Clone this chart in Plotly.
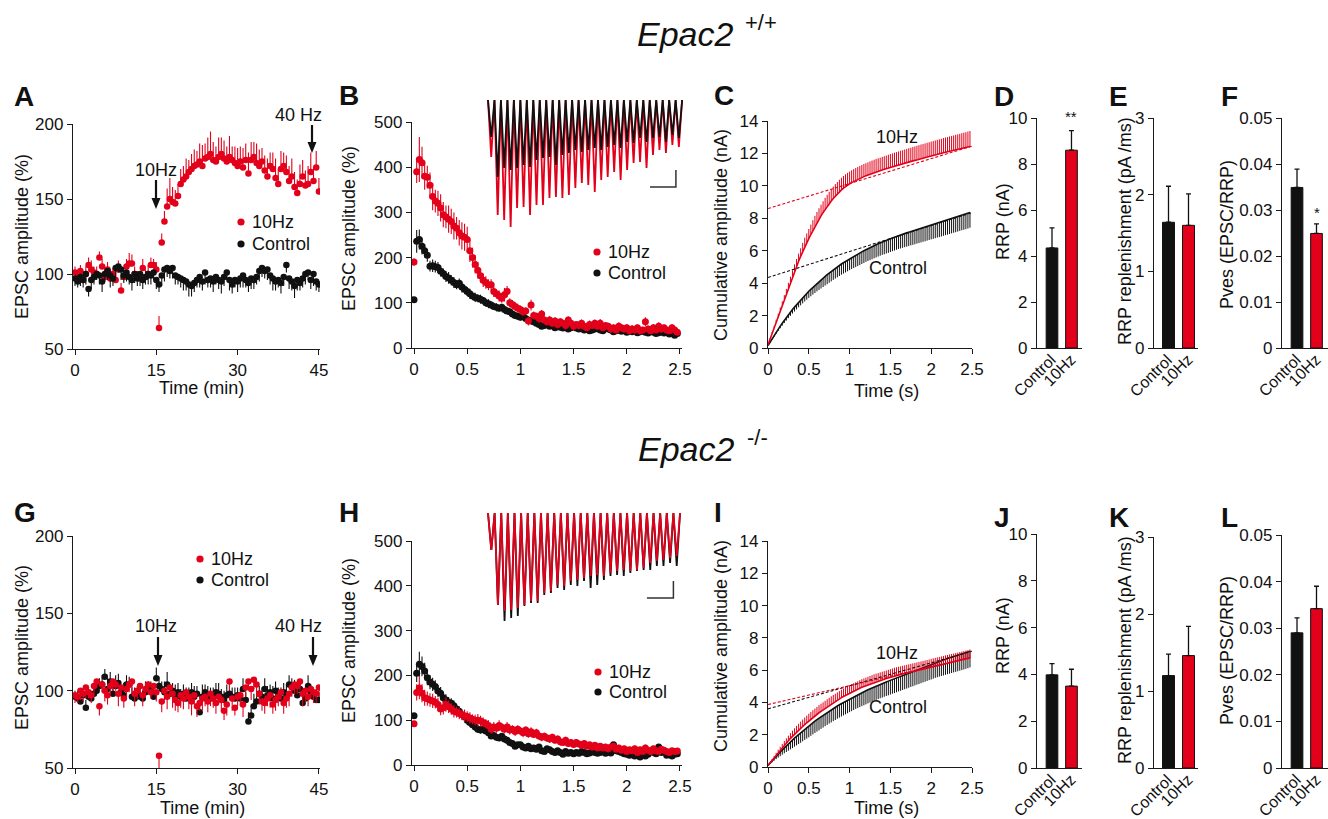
import plotly.graph_objects as go

W, H = 1328, 819
RED = '#e2001a'
BLK = '#111111'
AXC = '#1a1a1a'
FONT = 'Liberation Sans, Arial, Helvetica, sans-serif'
TICK_SIZE = 17
TITLE_SIZE = 18
BAR_LABEL_SIZE = 16

# ---------------- data ----------------
time_min = [i * 0.5 for i in range(91)]          # panels A, G sampling grid (min)
time_s = [i * 0.025 for i in range(100)]         # panels B, C, H, I sampling grid (s)

# A : Epac2 +/+ time course (%)
a_10hz = [101, 98, 102, 96, 100, 106, 103, 101, 100, 111,
          105, 98, 103, 97, 100, 96, 103, 89, 98, 105,
          107, 107, 100, 98, 97, 104, 98, 100, 106, 106,
          103, 64, 121, 135, 145, 150, 148, 147, 152, 160,
          163, 165, 168, 170, 172, 173, 175, 172, 177, 178,
          180, 176, 175, 178, 180, 177, 175, 178, 176, 174,
          172, 175, 171, 176, 167, 176, 178, 174, 172, 175,
          169, 165, 172, 170, 164, 160, 170, 172, 168, 162,
          165, 158, 154, 160, 165, 159, 160, 168, 162, 171,
          155]
a_10hz_err = [4, 5, 4, 6, 5, 5, 6, 4, 5, 4,
              5, 6, 5, 6, 4, 5, 6, 5, 4, 5,
              7, 6, 5, 4, 5, 6, 5, 6, 5, 4,
              5, 8, 6, 7, 12, 14, 10, 9, 8, 10,
              9, 12, 8, 10, 11, 9, 12, 14, 10, 13,
              15, 12, 10, 13, 11, 12, 10, 14, 9, 11,
              12, 10, 13, 11, 14, 12, 10, 13, 11, 9,
              10, 12, 9, 11, 13, 10, 12, 9, 11, 10,
              12, 10, 9, 13, 11, 10, 12, 13, 9, 11,
              9]
a_ctrl = [97, 95, 98, 96, 100, 90, 96, 98, 100, 99,
          95, 100, 102, 99, 97, 104, 105, 103, 99, 101,
          98, 96, 100, 97, 100, 96, 98, 100, 99, 101,
          96, 93, 99, 103, 104, 102, 104, 99, 98, 97,
          96, 95, 93, 92, 94, 96, 98, 95, 101, 96,
          97, 95, 98, 96, 95, 98, 101, 96, 93, 96,
          95, 97, 99, 96, 94, 97, 96, 98, 102, 104,
          102, 103, 99, 97, 95, 96, 94, 98, 106, 97,
          95, 92, 96, 94, 97, 100, 101, 96, 100, 95,
          93]
a_ctrl_err = [5, 4, 6, 5, 7, 5, 6, 5, 4, 6,
              7, 5, 6, 8, 5, 6, 4, 7, 5, 6,
              5, 7, 6, 5, 8, 6, 5, 7, 6, 5,
              6, 5, 7, 8, 6, 5, 7, 6, 5, 6,
              7, 6, 8, 7, 6, 5, 7, 6, 8, 5,
              6, 7, 5, 6, 8, 6, 5, 7, 6, 5,
              7, 6, 8, 5, 6, 7, 6, 5, 7, 6,
              5, 7, 6, 8, 6, 5, 7, 6, 5, 7,
              6, 8, 7, 5, 6, 7, 5, 6, 8, 6,
              5]

# B : Epac2 +/+ 40 Hz train (%)
b_10hz = [190, 390, 417, 410, 380, 378, 360, 335, 325, 320,
          310, 295, 290, 285, 280, 270, 265, 255, 248, 245,
          240, 215, 200, 185, 172, 160, 150, 145, 140, 140,
          125, 120, 115, 110, 118, 125, 100, 96, 92, 88,
          85, 80, 82, 60, 95, 72, 70, 65, 75, 62,
          58, 62, 55, 60, 52, 58, 55, 50, 62, 55,
          48, 52, 50, 55, 48, 45, 52, 50, 55, 48,
          55, 45, 50, 48, 42, 45, 40, 48, 45, 42,
          45, 38, 42, 40, 45, 38, 40, 58, 42, 38,
          45, 40, 48, 42, 45, 40, 38, 45, 40, 35]
b_10hz_err = [8, 25, 50, 35, 30, 25, 28, 30, 25, 28,
              30, 28, 25, 30, 28, 30, 25, 28, 30, 30,
              28, 25, 22, 20, 18, 15, 15, 14, 12, 12,
              12, 10, 12, 10, 15, 12, 10, 10, 9, 10,
              9, 10, 8, 10, 12, 9, 8, 10, 9, 8,
              8, 9, 7, 8, 9, 8, 7, 9, 8, 7,
              8, 7, 9, 8, 7, 8, 9, 7, 8, 7,
              9, 8, 7, 8, 9, 7, 8, 9, 7, 8,
              8, 7, 9, 8, 7, 8, 7, 10, 8, 7,
              8, 7, 9, 8, 7, 8, 7, 8, 7, 6]
b_ctrl = [107, 236, 240, 225, 215, 205, 181, 182, 180, 178,
          170, 165, 158, 155, 150, 145, 140, 143, 135, 130,
          125, 120, 115, 112, 110, 108, 105, 100, 98, 95,
          92, 90, 88, 90, 85, 82, 80, 75, 72, 70,
          68, 72, 65, 62, 60, 58, 55, 52, 48, 50,
          52, 48, 50, 45, 48, 46, 44, 47, 42, 45,
          48, 44, 42, 45, 40, 42, 38, 40, 42, 44,
          40, 38, 45, 42, 40, 36, 38, 40, 37, 39,
          35, 38, 36, 40, 34, 36, 38, 35, 33, 37,
          35, 32, 34, 36, 33, 35, 31, 34, 28, 32]
b_ctrl_err = [5, 25, 22, 18, 15, 14, 12, 14, 13, 12,
              12, 11, 12, 13, 11, 12, 10, 11, 12, 10,
              10, 11, 9, 10, 9, 10, 8, 9, 10, 8,
              8, 9, 7, 8, 9, 7, 8, 7, 8, 7,
              7, 6, 7, 8, 6, 7, 6, 7, 6, 7,
              6, 5, 6, 7, 5, 6, 5, 6, 5, 6,
              5, 6, 5, 6, 5, 5, 6, 5, 6, 5,
              5, 6, 5, 5, 6, 5, 5, 6, 5, 5,
              5, 5, 6, 5, 5, 6, 5, 5, 6, 5,
              5, 5, 6, 5, 5, 5, 6, 5, 5, 5]

# B inset : EPSC peak depths of the 40 Hz train (a.u.)
b_inset_10hz = [57, 115, 120, 127, 108, 107, 115, 105, 105, 98,
                97, 98, 95, 88, 83, 85, 92, 80, 77, 72,
                80, 70, 63, 62, 68, 55, 50, 53, 45, 47]
b_inset_ctrl = [37, 77, 68, 70, 68, 65, 67, 60, 58, 57,
                65, 55, 53, 50, 52, 50, 48, 50, 47, 45,
                48, 42, 43, 38, 42, 38, 37, 42, 35, 38]

# C : cumulative amplitude (nA)
c_10hz = [0.2, 0.55, 0.9, 1.25, 1.6, 1.95, 2.3, 2.65, 3.0, 3.35,
          3.7, 4.05, 4.4, 4.75, 5.05, 5.35, 5.65, 5.95, 6.25, 6.5,
          6.75, 7.0, 7.25, 7.5, 7.72, 7.94, 8.15, 8.35, 8.55, 8.73,
          8.9, 9.07, 9.22, 9.37, 9.5, 9.63, 9.75, 9.86, 9.96, 10.05,
          10.13, 10.2, 10.27, 10.34, 10.4, 10.46, 10.52, 10.57, 10.62, 10.67,
          10.72, 10.77, 10.82, 10.86, 10.9, 10.94, 10.98, 11.02, 11.06, 11.1,
          11.14, 11.18, 11.22, 11.25, 11.29, 11.33, 11.36, 11.4, 11.43, 11.47,
          11.5, 11.54, 11.57, 11.61, 11.64, 11.68, 11.71, 11.74, 11.78, 11.81,
          11.84, 11.88, 11.91, 11.94, 11.97, 12.0, 12.04, 12.07, 12.1, 12.13,
          12.16, 12.19, 12.22, 12.25, 12.28, 12.31, 12.34, 12.37, 12.4, 12.43]
c_10hz_err = [0.02, 0.05, 0.08, 0.11, 0.14, 0.17, 0.2, 0.23, 0.26, 0.29,
              0.32, 0.35, 0.38, 0.41, 0.44, 0.47, 0.5, 0.53, 0.55, 0.57,
              0.59, 0.61, 0.63, 0.65, 0.67, 0.68, 0.69, 0.7, 0.71, 0.72,
              0.73, 0.73, 0.74, 0.74, 0.74, 0.75, 0.75, 0.75, 0.75, 0.75,
              0.75, 0.76, 0.76, 0.76, 0.77, 0.77, 0.77, 0.78, 0.78, 0.78,
              0.79, 0.79, 0.79, 0.8, 0.8, 0.8, 0.81, 0.81, 0.81, 0.82,
              0.82, 0.82, 0.83, 0.83, 0.83, 0.84, 0.84, 0.84, 0.85, 0.85,
              0.85, 0.86, 0.86, 0.86, 0.87, 0.87, 0.87, 0.88, 0.88, 0.88,
              0.89, 0.89, 0.89, 0.9, 0.9, 0.9, 0.91, 0.91, 0.91, 0.92,
              0.92, 0.92, 0.93, 0.93, 0.93, 0.94, 0.94, 0.94, 0.95, 0.95]
c_ctrl = [0.15, 0.36, 0.57, 0.77, 0.97, 1.16, 1.35, 1.53, 1.71, 1.88,
          2.05, 2.21, 2.37, 2.52, 2.67, 2.82, 2.96, 3.1, 3.24, 3.37,
          3.5, 3.62, 3.74, 3.86, 3.98, 4.09, 4.2, 4.31, 4.42, 4.52,
          4.62, 4.72, 4.82, 4.91, 5.0, 5.09, 5.18, 5.26, 5.34, 5.42,
          5.5, 5.58, 5.65, 5.72, 5.79, 5.86, 5.93, 6.0, 6.07, 6.13,
          6.19, 6.25, 6.31, 6.37, 6.43, 6.49, 6.54, 6.59, 6.64, 6.69,
          6.74, 6.79, 6.84, 6.89, 6.94, 6.98, 7.02, 7.06, 7.1, 7.14,
          7.18, 7.22, 7.26, 7.3, 7.34, 7.38, 7.42, 7.46, 7.5, 7.54,
          7.58, 7.62, 7.66, 7.7, 7.74, 7.78, 7.82, 7.86, 7.9, 7.94,
          7.98, 8.02, 8.06, 8.1, 8.14, 8.18, 8.22, 8.26, 8.3, 8.35]
c_ctrl_err = [0.01, 0.03, 0.05, 0.07, 0.09, 0.11, 0.13, 0.15, 0.17, 0.19,
              0.21, 0.23, 0.25, 0.27, 0.29, 0.31, 0.33, 0.35, 0.37, 0.39,
              0.41, 0.43, 0.45, 0.47, 0.49, 0.51, 0.53, 0.55, 0.57, 0.59,
              0.6, 0.61, 0.62, 0.63, 0.64, 0.65, 0.66, 0.67, 0.68, 0.69,
              0.7, 0.71, 0.72, 0.73, 0.74, 0.75, 0.75, 0.76, 0.76, 0.77,
              0.77, 0.78, 0.78, 0.79, 0.79, 0.8, 0.8, 0.81, 0.81, 0.82,
              0.82, 0.82, 0.83, 0.83, 0.83, 0.84, 0.84, 0.84, 0.85, 0.85,
              0.85, 0.86, 0.86, 0.86, 0.87, 0.87, 0.87, 0.88, 0.88, 0.88,
              0.88, 0.89, 0.89, 0.89, 0.9, 0.9, 0.9, 0.9, 0.91, 0.91,
              0.91, 0.91, 0.92, 0.92, 0.92, 0.92, 0.93, 0.93, 0.93, 0.93]
c_fit_t = [0, 2.5]
c_fit_10hz = [8.6, 12.45]
c_fit_ctrl = [4.35, 8.35]

# D, E, F : bar summaries (Epac2 +/+)
groups = ['Control', '10Hz']
group_label_em = [3.223, 2.334]   # text length of the group labels, in em (for placing rotated labels)
d_rrp = [4.35, 8.6]
d_rrp_err = [0.87, 0.85]
e_repl = [1.64, 1.6]
e_repl_err = [0.47, 0.41]
f_pves = [0.0349, 0.0249]
f_pves_err = [0.004, 0.0021]

# G : Epac2 -/- time course (%)
g_10hz = [97, 96, 100, 98, 102, 99, 97, 103, 106, 90,
          104, 100, 97, 103, 106, 104, 98, 102, 95, 101,
          104, 106, 98, 100, 103, 97, 101, 104, 99, 103,
          99, 58, 93, 100, 96, 102, 98, 94, 92, 97,
          95, 99, 96, 93, 97, 90, 92, 95, 96, 93,
          98, 95, 92, 96, 94, 87, 91, 106, 95, 89,
          96, 97, 91, 102, 106, 101, 107, 104, 98, 93,
          92, 95, 97, 91, 94, 96, 99, 92, 95, 98,
          102, 104, 103, 106, 98, 100, 96, 101, 99, 98,
          102]
g_10hz_err = [5, 4, 6, 5, 7, 4, 5, 6, 4, 6,
              5, 7, 6, 5, 6, 4, 8, 5, 6, 7,
              5, 6, 8, 5, 6, 7, 5, 6, 4, 5,
              6, 8, 7, 6, 8, 5, 9, 7, 6, 8,
              7, 6, 8, 9, 6, 7, 5, 8, 6, 7,
              8, 6, 7, 5, 8, 6, 7, 6, 8, 5,
              6, 7, 8, 6, 5, 7, 6, 8, 7, 6,
              7, 5, 8, 6, 7, 6, 5, 7, 6, 8,
              6, 7, 5, 6, 8, 7, 6, 5, 7, 6,
              6]
g_ctrl = [96, 95, 93, 97, 89, 96, 95, 98, 100, 103,
          104, 109, 101, 106, 98, 103, 105, 99, 97, 104,
          104, 96, 95, 98, 96, 95, 99, 100, 101, 96,
          108, 103, 101, 99, 104, 98, 100, 97, 99, 96,
          98, 95, 97, 99, 96, 98, 86, 96, 99, 97,
          95, 97, 99, 98, 96, 94, 97, 98, 96, 95,
          97, 95, 101, 94, 80, 84, 90, 93, 98, 96,
          101, 97, 99, 95, 100, 97, 95, 99, 96, 104,
          103, 100, 97, 101, 92, 95, 103, 99, 96, 94,
          94]
g_ctrl_err = [4, 5, 6, 4, 5, 6, 5, 7, 6, 5,
              6, 5, 7, 6, 5, 7, 6, 5, 8, 6,
              5, 6, 7, 5, 6, 5, 7, 6, 5, 6,
              7, 6, 5, 7, 8, 6, 5, 7, 6, 5,
              6, 7, 5, 6, 7, 5, 6, 8, 5, 6,
              7, 5, 6, 7, 5, 6, 7, 5, 6, 7,
              5, 6, 7, 5, 6, 7, 8, 6, 5, 6,
              7, 6, 5, 8, 6, 5, 7, 6, 8, 6,
              5, 7, 6, 5, 8, 6, 7, 5, 6, 7,
              5]

# H : Epac2 -/- 40 Hz train (%)
h_10hz = [92, 162, 172, 160, 150, 148, 145, 143, 140, 135,
          125, 128, 135, 130, 125, 120, 118, 115, 112, 110,
          108, 105, 102, 100, 100, 98, 95, 92, 88, 80,
          85, 82, 88, 84, 80, 85, 78, 80, 75, 80,
          76, 72, 78, 70, 74, 68, 72, 65, 62, 64,
          60, 58, 62, 55, 58, 52, 50, 55, 48, 50,
          46, 50, 47, 44, 48, 42, 45, 40, 44, 38,
          42, 38, 40, 36, 40, 42, 35, 38, 33, 36,
          30, 34, 32, 36, 28, 34, 30, 38, 33, 30,
          36, 32, 30, 35, 33, 30, 28, 32, 30, 31]
h_10hz_err = [6, 18, 25, 20, 18, 16, 15, 16, 14, 15,
              14, 15, 16, 14, 13, 14, 12, 13, 12, 14,
              12, 13, 11, 12, 14, 12, 11, 10, 12, 10,
              11, 10, 12, 10, 9, 11, 10, 9, 10, 9,
              9, 10, 8, 9, 10, 8, 9, 8, 9, 8,
              8, 9, 8, 7, 8, 9, 7, 8, 7, 8,
              7, 8, 7, 8, 7, 6, 7, 8, 7, 6,
              7, 6, 7, 8, 6, 7, 6, 7, 6, 7,
              6, 7, 6, 7, 6, 7, 6, 8, 6, 7,
              6, 7, 6, 7, 6, 6, 7, 6, 6, 5]
h_ctrl = [110, 205, 225, 220, 210, 195, 185, 180, 175, 165,
          160, 150, 145, 140, 138, 132, 125, 120, 112, 108,
          100, 95, 90, 85, 80, 78, 80, 76, 72, 65,
          66, 62, 60, 64, 58, 55, 50, 48, 42, 45,
          45, 40, 38, 42, 36, 38, 35, 40, 32, 30,
          36, 34, 30, 28, 32, 28, 24, 30, 26, 28,
          25, 28, 26, 30, 28, 25, 27, 30, 28, 26,
          28, 30, 26, 29, 27, 45, 32, 30, 28, 25,
          24, 22, 26, 20, 22, 18, 25, 20, 24, 30,
          28, 25, 40, 28, 30, 22, 26, 20, 24, 25]
h_ctrl_err = [5, 20, 28, 22, 18, 17, 16, 15, 14, 13,
              14, 12, 13, 12, 11, 12, 10, 11, 10, 9,
              10, 9, 8, 9, 8, 8, 9, 7, 8, 7,
              7, 8, 6, 7, 6, 7, 6, 6, 5, 6,
              6, 5, 6, 5, 6, 5, 5, 6, 5, 5,
              5, 4, 5, 5, 4, 5, 5, 4, 5, 5,
              4, 5, 5, 4, 5, 4, 5, 5, 4, 5,
              5, 4, 5, 4, 5, 5, 4, 5, 4, 5,
              4, 5, 4, 5, 5, 4, 5, 4, 5, 4,
              5, 4, 5, 4, 4, 5, 4, 5, 4, 4]

# H inset : EPSC peak depths (a.u.)
h_inset_10hz = [37, 92, 98, 97, 95, 92, 88, 88, 80, 78,
                72, 73, 68, 67, 65, 63, 62, 63, 60, 58,
                57, 58, 57, 55, 50, 48, 47, 45, 43]
h_inset_ctrl = [37, 92, 108, 105, 103, 93, 90, 90, 82, 80,
                75, 77, 72, 73, 68, 75, 72, 67, 63, 62,
                63, 60, 58, 57, 57, 53, 53, 50, 53]

# I : cumulative amplitude (nA)
i_10hz = [0.1, 0.26, 0.42, 0.58, 0.74, 0.9, 1.05, 1.2, 1.35, 1.49,
          1.63, 1.77, 1.9, 2.03, 2.16, 2.28, 2.4, 2.52, 2.63, 2.74,
          2.85, 2.96, 3.06, 3.16, 3.26, 3.36, 3.45, 3.54, 3.63, 3.72,
          3.81, 3.9, 3.98, 4.06, 4.14, 4.22, 4.3, 4.37, 4.44, 4.51,
          4.58, 4.64, 4.7, 4.76, 4.82, 4.88, 4.94, 4.99, 5.04, 5.09,
          5.14, 5.19, 5.24, 5.28, 5.32, 5.36, 5.4, 5.44, 5.48, 5.52,
          5.56, 5.6, 5.64, 5.67, 5.7, 5.73, 5.76, 5.79, 5.82, 5.85,
          5.88, 5.91, 5.94, 5.97, 6.0, 6.03, 6.06, 6.09, 6.12, 6.15,
          6.18, 6.21, 6.24, 6.27, 6.3, 6.33, 6.36, 6.39, 6.42, 6.45,
          6.48, 6.51, 6.54, 6.57, 6.6, 6.63, 6.66, 6.69, 6.72, 6.76]
i_10hz_err = [0.02, 0.05, 0.08, 0.11, 0.14, 0.17, 0.2, 0.23, 0.26, 0.29,
              0.31, 0.33, 0.35, 0.37, 0.39, 0.4, 0.41, 0.42, 0.43, 0.44,
              0.45, 0.45, 0.46, 0.46, 0.46, 0.47, 0.47, 0.47, 0.47, 0.48,
              0.48, 0.48, 0.48, 0.48, 0.48, 0.48, 0.49, 0.49, 0.49, 0.49,
              0.49, 0.49, 0.49, 0.49, 0.49, 0.5, 0.5, 0.5, 0.5, 0.5,
              0.5, 0.5, 0.5, 0.5, 0.5, 0.5, 0.5, 0.5, 0.5, 0.5,
              0.5, 0.5, 0.51, 0.51, 0.51, 0.51, 0.51, 0.51, 0.51, 0.51,
              0.51, 0.51, 0.51, 0.51, 0.51, 0.51, 0.51, 0.51, 0.51, 0.51,
              0.52, 0.52, 0.52, 0.52, 0.52, 0.52, 0.52, 0.52, 0.52, 0.52,
              0.52, 0.52, 0.52, 0.52, 0.52, 0.52, 0.52, 0.52, 0.52, 0.52]
i_ctrl = [0.1, 0.25, 0.39, 0.53, 0.67, 0.8, 0.93, 1.06, 1.19, 1.31,
          1.43, 1.55, 1.67, 1.79, 1.9, 2.01, 2.12, 2.23, 2.34, 2.44,
          2.54, 2.64, 2.74, 2.84, 2.93, 3.02, 3.11, 3.2, 3.29, 3.38,
          3.46, 3.54, 3.62, 3.7, 3.78, 3.86, 3.93, 4.0, 4.07, 4.14,
          4.21, 4.28, 4.35, 4.42, 4.48, 4.54, 4.6, 4.66, 4.72, 4.78,
          4.84, 4.9, 4.96, 5.02, 5.07, 5.12, 5.17, 5.22, 5.27, 5.32,
          5.37, 5.42, 5.47, 5.52, 5.57, 5.62, 5.67, 5.72, 5.77, 5.82,
          5.87, 5.92, 5.97, 6.02, 6.07, 6.12, 6.17, 6.22, 6.27, 6.32,
          6.37, 6.42, 6.47, 6.52, 6.56, 6.6, 6.64, 6.68, 6.72, 6.76,
          6.8, 6.84, 6.88, 6.92, 6.96, 7.0, 7.04, 7.08, 7.12, 7.17]
i_ctrl_err = [0.02, 0.06, 0.1, 0.14, 0.18, 0.22, 0.26, 0.3, 0.34, 0.38,
              0.42, 0.46, 0.5, 0.53, 0.56, 0.59, 0.62, 0.64, 0.66, 0.68,
              0.7, 0.71, 0.72, 0.73, 0.74, 0.75, 0.75, 0.76, 0.76, 0.77,
              0.77, 0.78, 0.78, 0.79, 0.79, 0.8, 0.8, 0.8, 0.81, 0.81,
              0.81, 0.82, 0.82, 0.82, 0.83, 0.83, 0.83, 0.84, 0.84, 0.84,
              0.85, 0.85, 0.85, 0.86, 0.86, 0.86, 0.87, 0.87, 0.87, 0.88,
              0.88, 0.88, 0.89, 0.89, 0.89, 0.9, 0.9, 0.9, 0.91, 0.91,
              0.91, 0.92, 0.92, 0.92, 0.93, 0.93, 0.93, 0.94, 0.94, 0.94,
              0.95, 0.95, 0.95, 0.96, 0.96, 0.96, 0.97, 0.97, 0.97, 0.98,
              0.98, 0.98, 0.99, 0.99, 0.99, 1.0, 1.0, 1.0, 1.0, 1.0]
i_fit_t = [0, 2.5]
i_fit_10hz = [3.87, 6.8]
i_fit_ctrl = [3.6, 7.17]

# J, K, L : bar summaries (Epac2 -/-)
j_rrp = [3.98, 3.5]
j_rrp_err = [0.48, 0.72]
k_repl = [1.2, 1.46]
k_repl_err = [0.28, 0.38]
l_pves = [0.029, 0.0342]
l_pves_err = [0.0032, 0.0048]

# inset scale bars: 100 ms, 17 a.u.
SCALE_MS = 100
SCALE_AU = 17
PERIOD_MS = 25


# ---------------- helpers ----------------
def fx(p):
    return p / W


def fy(p):
    return 1 - p / H


def ax_style(**kw):
    d = dict(showline=True, linecolor=AXC, linewidth=1.3, ticks='outside', ticklen=5,
             tickwidth=1.3, tickcolor=AXC, showgrid=False, zeroline=False, automargin=False,
             tickfont=dict(family=FONT, size=TICK_SIZE, color='#111'), fixedrange=True)
    d.update(kw)
    return d


def hidden_axis(**kw):
    d = dict(showline=False, showgrid=False, zeroline=False, showticklabels=False, ticks='',
             automargin=False, fixedrange=True)
    d.update(kw)
    return d


fig = go.Figure()
layout = {}
annotations = []
shapes = []


def add_axes(n, xpx, ypx, xr, yr, xkw=None, ykw=None):
    s = '' if n == 1 else str(n)
    xk = ax_style(domain=[fx(xpx[0]), fx(xpx[1])], range=xr, anchor='y' + s)
    yk = ax_style(domain=[fy(ypx[1]), fy(ypx[0])], range=yr, anchor='x' + s)
    xk.update(xkw or {})
    yk.update(ykw or {})
    layout['xaxis' + s] = xk
    layout['yaxis' + s] = yk
    return 'x' + s, 'y' + s


def text(x, y, s, size=TITLE_SIZE, bold=False, italic=False, xanchor='center', yanchor='middle',
         angle=0):
    if bold:
        s = '<b>' + s + '</b>'
    if italic:
        s = '<i>' + s + '</i>'
    annotations.append(dict(x=fx(x), y=fy(y), xref='paper', yref='paper', text=s,
                            showarrow=False, xanchor=xanchor, yanchor=yanchor, textangle=angle,
                            font=dict(family=FONT, size=size, color='#111')))


def ytitle(x, y, s):
    text(x, y, s, angle=-90)


def scatter_err(xa, ya, x, y, err, color, up=True, size=6.5):
    zeros = [0] * len(err)
    fig.add_trace(go.Scatter(
        x=x, y=y, mode='markers', xaxis=xa, yaxis=ya, showlegend=False,
        marker=dict(size=size, color=color, line=dict(width=0)),
        error_y=dict(type='data', symmetric=False,
                     array=err if up else zeros, arrayminus=zeros if up else err,
                     color=color, thickness=1.1, width=0)))


def scatter_sym(xa, ya, x, y, err, color, size=7):
    fig.add_trace(go.Scatter(
        x=x, y=y, mode='markers', xaxis=xa, yaxis=ya, showlegend=False,
        marker=dict(size=size, color=color, line=dict(width=0)),
        error_y=dict(type='data', array=err, color=color, thickness=1.1, width=0)))


def cum_line(xa, ya, x, y, err, color, up):
    zeros = [0] * len(err)
    fig.add_trace(go.Scatter(
        x=x, y=y, mode='lines', xaxis=xa, yaxis=ya, showlegend=False,
        line=dict(color=color, width=1.6),
        error_y=dict(type='data', symmetric=False,
                     array=err if up else zeros, arrayminus=zeros if up else err,
                     color=color, thickness=1, width=0)))


def fit_line(xa, ya, x, y, color):
    fig.add_trace(go.Scatter(x=x, y=y, mode='lines', xaxis=xa, yaxis=ya, showlegend=False,
                             line=dict(color=color, width=1.1, dash='3px,2px')))


def bars(xa, ya, vals, errs):
    fig.add_trace(go.Bar(
        x=[0, 1], y=vals, width=0.6, xaxis=xa, yaxis=ya, showlegend=False,
        marker=dict(color=[BLK, RED], line=dict(color=BLK, width=1)),
        error_y=dict(type='data', symmetric=False, array=errs, arrayminus=[0, 0],
                     color=BLK, thickness=1.3, width=2.5)))


def bar_labels(centers_px, axis_y_px):
    # rotated group labels whose upper-right end sits just under each bar
    for xc, lab, em in zip(centers_px, groups, group_label_em):
        L = em * BAR_LABEL_SIZE
        side = (L + BAR_LABEL_SIZE * 1.1) * 0.7071
        text(xc + 7 - side / 2, axis_y_px + 3 + side / 2, lab, size=BAR_LABEL_SIZE, angle=-45)


def train(depths):
    xs, ys = [0.0], [0.0]
    for i, d in enumerate(depths):
        xs += [i * PERIOD_MS + PERIOD_MS / 2, (i + 1) * PERIOD_MS]
        ys += [-d, 0.0]
    return xs, ys


def bar_x():
    return dict(tickvals=[0, 1], ticks='', showticklabels=False)


def legend_item(xdot, y, label, color):
    shapes.append(dict(type='circle', xref='paper', yref='paper', xsizemode='pixel',
                       ysizemode='pixel', xanchor=fx(xdot), yanchor=fy(y),
                       x0=-3.6, x1=3.6, y0=-3.6, y1=3.6, fillcolor=color,
                       line=dict(width=0)))
    text(xdot + 9, y, label, xanchor='left')


def arrow(x, y0, y1):
    # shaft from y0 (top) to the head, head tip at y1 (pixel positions)
    shapes.append(dict(type='line', xref='paper', yref='paper', x0=fx(x), x1=fx(x),
                       y0=fy(y0), y1=fy(y1 - 8), line=dict(color='#111', width=2.2)))
    shapes.append(dict(type='path', xref='paper', yref='paper',
                       path='M {:.5f},{:.5f} L {:.5f},{:.5f} L {:.5f},{:.5f} Z'.format(
                           fx(x - 4.5), fy(y1 - 11), fx(x + 4.5), fy(y1 - 11), fx(x), fy(y1)),
                       fillcolor='#111', line=dict(width=0)))


# ---------------- Row 1 : Epac2 +/+ ----------------
tick_s = dict(tickvals=[0, 0.5, 1, 1.5, 2, 2.5], ticktext=['0', '0.5', '1', '1.5', '2', '2.5'])

# A
xa, ya = add_axes(1, (73, 320), (124, 349), [-0.37, 45.2], [50, 200],
                  dict(tickvals=[0, 15, 30, 45]), dict(tickvals=[50, 100, 150, 200]))
scatter_err(xa, ya, time_min, a_10hz, a_10hz_err, RED, up=True)
scatter_err(xa, ya, time_min, a_ctrl, a_ctrl_err, BLK, up=False)
ytitle(22, 237, 'EPSC amplitude (%)')
text(201, 388, 'Time (min)')
arrow(156, 180, 209)
arrow(312, 125, 153)
text(156, 170, '10Hz')
text(298, 115, '40 Hz')
legend_item(241, 222, '10Hz', RED)
legend_item(241, 244, 'Control', BLK)

# B
xa, ya = add_axes(2, (412, 682), (122, 348), [-0.019, 2.519], [0, 500],
                  dict(**tick_s), dict(tickvals=[0, 100, 200, 300, 400, 500]))
scatter_sym(xa, ya, time_s, b_ctrl, b_ctrl_err, BLK)
scatter_sym(xa, ya, time_s, b_10hz, b_10hz_err, RED)
ytitle(349, 229, 'EPSC amplitude (%)')
legend_item(597, 252, '10Hz', RED)
legend_item(597, 273, 'Control', BLK)

# B inset
bx_r, by_r = train(b_inset_10hz)
bx_c, by_c = train(b_inset_ctrl)
layout['xaxis13'] = hidden_axis(domain=[fx(486), fx(686)], range=[-7.7, 765.0], anchor='y13')
layout['yaxis13'] = hidden_axis(domain=[fy(234), fy(96)], range=[-134, 4], anchor='x13')
fig.add_trace(go.Scatter(x=bx_r, y=by_r, mode='lines', xaxis='x13', yaxis='y13', showlegend=False,
                         line=dict(color=RED, width=1.8)))
fig.add_trace(go.Scatter(x=bx_c, y=by_c, mode='lines', xaxis='x13', yaxis='y13', showlegend=False,
                         line=dict(color=BLK, width=1.8)))
fig.add_trace(go.Scatter(x=[626, 626 + SCALE_MS, 626 + SCALE_MS], y=[-87, -87, -87 + SCALE_AU],
                         mode='lines', xaxis='x13', yaxis='y13', showlegend=False,
                         line=dict(color='#333', width=1.5)))

# C
xa, ya = add_axes(3, (768, 972), (121, 348), [0, 2.5], [0, 14],
                  dict(**tick_s), dict(tickvals=list(range(0, 15, 2))))
cum_line(xa, ya, time_s, c_ctrl, c_ctrl_err, BLK, up=False)
cum_line(xa, ya, time_s, c_10hz, c_10hz_err, RED, up=True)
fit_line(xa, ya, c_fit_t, c_fit_ctrl, BLK)
fit_line(xa, ya, c_fit_t, c_fit_10hz, RED)
ytitle(721, 235, 'Cumulative amplitude (nA)')
text(886, 391, 'Time (s)')
text(897, 137, '10Hz')
text(898, 268, 'Control')

# D
xa, ya = add_axes(4, (1037, 1082), (118, 348), [-0.77, 1.54], [0, 10], bar_x(),
                  dict(tickvals=[0, 2, 4, 6, 8, 10]))
bars(xa, ya, d_rrp, d_rrp_err)
bar_labels([1052, 1071.5], 348)
ytitle(1003, 221, 'RRP (nA)')
annotations.append(dict(x=1, y=9.6, xref=xa, yref=ya, text='**', showarrow=False, yanchor='bottom',
                        font=dict(family=FONT, size=15, color='#111')))
# E
xa, ya = add_axes(5, (1154, 1198), (118, 348), [-0.725, 1.475], [0, 3], bar_x(),
                  dict(tickvals=[0, 1, 2, 3]))
bars(xa, ya, e_repl, e_repl_err)
bar_labels([1168.5, 1188.5], 348)
ytitle(1125, 231, 'RRP replenishment (pA /ms)')
# F
xa, ya = add_axes(6, (1282, 1328), (118, 348), [-0.77, 1.59], [0, 0.05], bar_x(),
                  dict(tickvals=[0, 0.01, 0.02, 0.03, 0.04, 0.05],
                       ticktext=['0', '0.01', '0.02', '0.03', '0.04', '0.05']))
bars(xa, ya, f_pves, f_pves_err)
bar_labels([1297, 1316.5], 348)
ytitle(1227, 235, 'Pves (EPSC/RRP)')
annotations.append(dict(x=1, y=0.0272, xref=xa, yref=ya, text='*', showarrow=False, yanchor='bottom',
                        font=dict(family=FONT, size=15, color='#111')))

# ---------------- Row 2 : Epac2 -/- ----------------
# G
xa, ya = add_axes(7, (73, 320), (536, 768), [-0.37, 45.2], [50, 200],
                  dict(tickvals=[0, 15, 30, 45]), dict(tickvals=[50, 100, 150, 200]))
scatter_err(xa, ya, time_min, g_ctrl, g_ctrl_err, BLK, up=True)
scatter_err(xa, ya, time_min, g_10hz, g_10hz_err, RED, up=False)
ytitle(22, 648, 'EPSC amplitude (%)')
text(202, 808, 'Time (min)')
arrow(158, 637, 666)
arrow(313, 637, 666)
text(156, 626, '10Hz')
text(298, 626, '40 Hz')
legend_item(200, 559, '10Hz', RED)
legend_item(200, 580, 'Control', BLK)

# H
xa, ya = add_axes(8, (412, 682), (541, 765), [-0.019, 2.519], [0, 500],
                  dict(**tick_s), dict(tickvals=[0, 100, 200, 300, 400, 500]))
scatter_sym(xa, ya, time_s, h_ctrl, h_ctrl_err, BLK)
scatter_sym(xa, ya, time_s, h_10hz, h_10hz_err, RED)
ytitle(349, 641, 'EPSC amplitude (%)')
legend_item(598, 672, '10Hz', RED)
legend_item(598, 692, 'Control', BLK)

# H inset
hx_r, hy_r = train(h_inset_10hz)
hx_c, hy_c = train(h_inset_ctrl)
layout['xaxis14'] = hidden_axis(domain=[fx(486), fx(684)], range=[-7.55, 740.0], anchor='y14')
layout['yaxis14'] = hidden_axis(domain=[fy(627), fy(509)], range=[-114, 4], anchor='x14')
fig.add_trace(go.Scatter(x=hx_c, y=hy_c, mode='lines', xaxis='x14', yaxis='y14', showlegend=False,
                         line=dict(color=BLK, width=1.8)))
fig.add_trace(go.Scatter(x=hx_r, y=hy_r, mode='lines', xaxis='x14', yaxis='y14', showlegend=False,
                         line=dict(color=RED, width=1.8)))
fig.add_trace(go.Scatter(x=[600, 600 + SCALE_MS, 600 + SCALE_MS], y=[-85, -85, -85 + SCALE_AU],
                         mode='lines', xaxis='x14', yaxis='y14', showlegend=False,
                         line=dict(color='#333', width=1.5)))

# I
xa, ya = add_axes(9, (768, 972), (541, 767), [0, 2.5], [0, 14],
                  dict(**tick_s), dict(tickvals=list(range(0, 15, 2))))
cum_line(xa, ya, time_s, i_ctrl, i_ctrl_err, BLK, up=False)
cum_line(xa, ya, time_s, i_10hz, i_10hz_err, RED, up=True)
fit_line(xa, ya, i_fit_t, i_fit_ctrl, BLK)
fit_line(xa, ya, i_fit_t, i_fit_10hz, RED)
ytitle(721, 646, 'Cumulative amplitude (nA)')
text(886, 808, 'Time (s)')
text(897, 653, '10Hz')
text(898, 707, 'Control')

# J
xa, ya = add_axes(10, (1037, 1082), (534, 768), [-0.77, 1.54], [0, 10], bar_x(),
                  dict(tickvals=[0, 2, 4, 6, 8, 10]))
bars(xa, ya, j_rrp, j_rrp_err)
bar_labels([1052, 1071.5], 768)
ytitle(1003, 635, 'RRP (nA)')
# K
xa, ya = add_axes(11, (1154, 1198), (537, 768), [-0.725, 1.475], [0, 3], bar_x(),
                  dict(tickvals=[0, 1, 2, 3]))
bars(xa, ya, k_repl, k_repl_err)
bar_labels([1168.5, 1188.5], 768)
ytitle(1125, 650, 'RRP replenishment (pA /ms)')
# L
xa, ya = add_axes(12, (1282, 1328), (535, 768), [-0.77, 1.59], [0, 0.05], bar_x(),
                  dict(tickvals=[0, 0.01, 0.02, 0.03, 0.04, 0.05],
                       ticktext=['0', '0.01', '0.02', '0.03', '0.04', '0.05']))
bars(xa, ya, l_pves, l_pves_err)
bar_labels([1297, 1316.5], 768)
ytitle(1227, 651, 'Pves (EPSC/RRP)')

# ---------------- titles & panel letters ----------------
text(685, 34, 'Epac2', size=34, italic=True)
text(761, 22, '+/+', size=22)
text(686, 449, 'Epac2', size=34, italic=True)
text(757, 437, '-/-', size=22)
for lab, x, y in [('A', 12, 96), ('B', 337, 95), ('C', 712, 95), ('D', 992, 96), ('E', 1107, 96),
                  ('F', 1219, 96), ('G', 12, 512), ('H', 337, 512), ('I', 712, 512),
                  ('J', 992, 517), ('K', 1107, 517), ('L', 1219, 517)]:
    text(x, y, lab, size=28, bold=True, xanchor='left')

fig.update_layout(
    width=W, height=H, margin=dict(l=0, r=0, t=0, b=0, autoexpand=False),
    paper_bgcolor='white', plot_bgcolor='white',
    font=dict(family=FONT, color='#111'),
    showlegend=False, barmode='group',
    annotations=annotations, shapes=shapes,
    **layout)

fig.write_html('out.html', config={'displayModeBar': False},
               post_script="document.body.style.margin='0';document.body.style.overflow='hidden';")
